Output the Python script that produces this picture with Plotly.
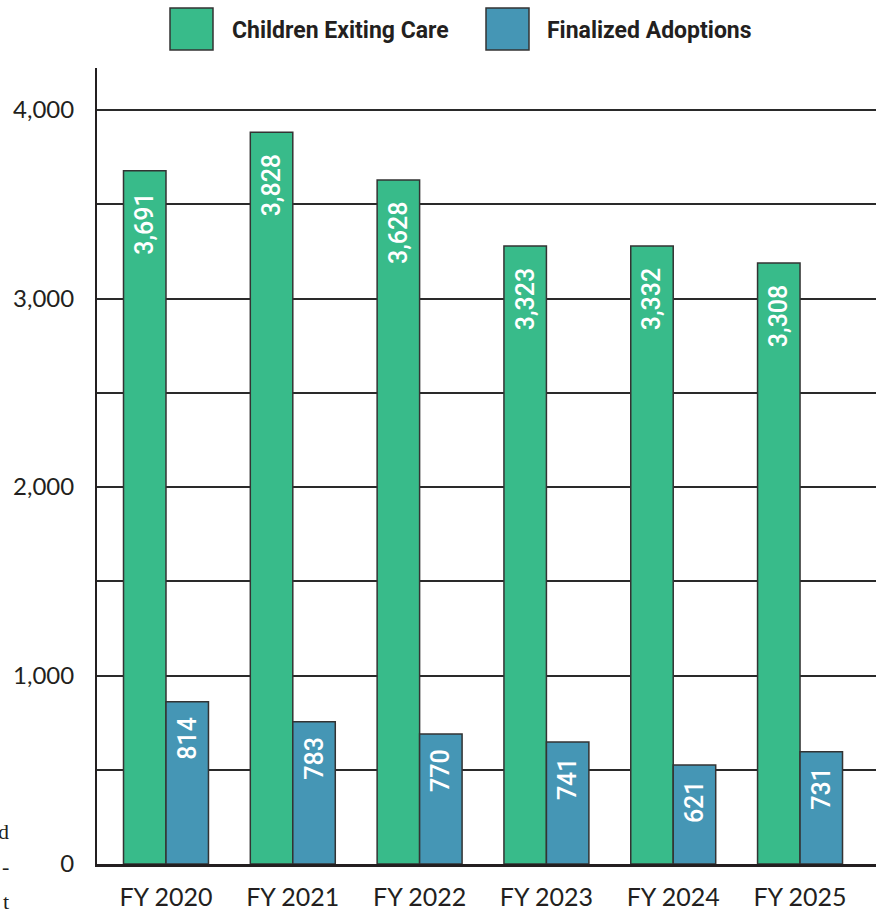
import plotly.graph_objects as go

# ---- data ----
years = ["FY 2020", "FY 2021", "FY 2022", "FY 2023", "FY 2024", "FY 2025"]
exiting_heights = [3678, 3882, 3629, 3278, 3278, 3188]   # bar heights as drawn
exiting_labels = [3691, 3828, 3628, 3323, 3332, 3308]    # printed values
adoption_heights = [861, 755, 690, 647, 525, 596]
adoption_labels = [814, 783, 770, 741, 621, 731]
y_tickvals = [0, 500, 1000, 1500, 2000, 2500, 3000, 3500, 4000]
y_ticktext = ["0", "", "1,000", "", "2,000", "", "3,000", "", "4,000"]

GREEN = "#38BB8A"
BLUE = "#4596B5"
OUTLINE = "#333333"
INK = "#231f20"

W, H = 880, 912
ML, MR, MT, MB = 97, 4, 68, 48
PW, PH = W - ML - MR, H - MT - MB


def px_x(px):
    return (px - ML) / PW


def px_y(py):
    return (H - MB - py) / PH


fig = go.Figure()
fig.add_trace(go.Bar(
    x=years, y=exiting_heights, name="Children Exiting Care",
    marker=dict(color=GREEN, line=dict(color=OUTLINE, width=1.5)),
    text=[f"{v:,}" + "\u00a0" * 3 for v in exiting_labels],
    textposition="inside", insidetextanchor="end", textangle=-90,
    textfont=dict(family="Roboto", size=25, color="white", weight=500),
    showlegend=False,
))
fig.add_trace(go.Bar(
    x=years, y=adoption_heights, name="Finalized Adoptions",
    marker=dict(color=BLUE, line=dict(color=OUTLINE, width=1.5)),
    text=[f"{v:,}" + "\u00a0" * 2 for v in adoption_labels],
    textposition="inside", insidetextanchor="end", textangle=-90,
    textfont=dict(family="Roboto", size=25, color="white", weight=500),
    showlegend=False,
))

# manual legend
shapes = []
annotations = []
legend_items = [("Children Exiting Care", GREEN, 170, 213, 230),
                ("Finalized Adoptions", BLUE, 486, 529, 545)]
for name, col, x0, x1, tx in legend_items:
    shapes.append(dict(type="rect", xref="paper", yref="paper",
                       x0=px_x(x0), x1=px_x(x1), y0=px_y(50), y1=px_y(8),
                       fillcolor=col, line=dict(color=OUTLINE, width=1.5)))
    annotations.append(dict(text=f"<b>{name}</b>", xref="paper", yref="paper",
                            x=px_x(tx), y=px_y(31), xanchor="left", yanchor="middle",
                            showarrow=False,
                            font=dict(family="Roboto", size=23, color=INK)))

# stray page text at the left edge
for ch, py in [("d", 831), ("-", 866), ("t", 901)]:
    annotations.append(dict(text=ch, xref="paper", yref="paper",
                            x=px_x(11), y=px_y(py), xanchor="right", yanchor="middle",
                            showarrow=False,
                            font=dict(family="Liberation Serif", size=22, color=INK)))

fig.update_layout(
    width=W, height=H,
    margin=dict(l=ML, r=MR, t=MT, b=MB),
    paper_bgcolor="white", plot_bgcolor="white",
    barmode="group", bargap=0.33, bargroupgap=0,
    shapes=shapes, annotations=annotations,
    uniformtext=dict(minsize=25, mode="show"),
)
fig.update_xaxes(
    range=[-0.544, 5.599], showgrid=False, automargin=False,
    showline=True, linecolor=INK, linewidth=3,
    ticks="outside", ticklen=0, ticklabelstandoff=9,
    tickfont=dict(family="Lato", size=25, color=INK),
)
fig.update_yaxes(
    range=[0, 4223], tickmode="array", tickvals=y_tickvals, ticktext=y_ticktext,
    showgrid=True, gridcolor="#2a2a2a", gridwidth=2, automargin=False,
    zeroline=False, showline=True, linecolor=INK, linewidth=2,
    ticks="outside", ticklen=0, ticklabelstandoff=16,
    tickfont=dict(family="Lato", size=24, color=INK),
)

fig.write_html("out.html")
